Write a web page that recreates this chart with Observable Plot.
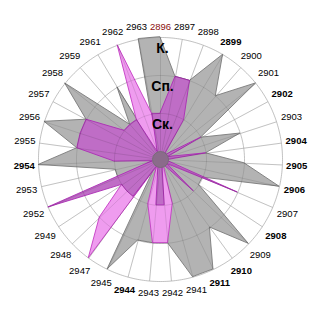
<!DOCTYPE html>
<html><head><meta charset="utf-8">
<script src="https://cdn.jsdelivr.net/npm/d3@7"></script>
<script src="https://cdn.jsdelivr.net/npm/@observablehq/plot@0.6"></script>
<style>
html,body{margin:0;padding:0;background:#fff;}
#chart{width:320px;height:320px;overflow:hidden;}
svg{font-family:"Liberation Sans",Arial,sans-serif;}
</style></head><body><div id="chart"></div>
<script>
const categories = ["2896","2897","2898","2899","2900","2901","2902","2903","2904","2905","2906","2907","2908","2909","2910","2911","2941","2942","2943","2944","2945","2947","2948","2949","2952","2953","2954","2955","2956","2957","2958","2959","2961","2962","2963"];
const grayLevels   = [3,2,2,3,2,3,1,2,1,2,3,1,1,3,2,3,3,2,2,2,3,0,1,1,1,1,3,2,3,2,3,1,2,0,3];
const pinkLevels   = [0,0,0,0,0,0,0,0,0,0,0,0,0,0,0,0,1,2,2,1,0,3,2,1,1,0,0,0,0,0,0,0,1,3,1];
const purpleLevels = [1,2,2,1,0,0,1,0,1,0,0,2,0,1,0,0,0,1,1,0,0,1,1,1,3,0,1,2,2,2,1,1,1,0,1];
const boldLabels = ["2899","2902","2904","2905","2906","2908","2910","2911","2944","2954"];
const redLabels = ["2896"];
const levelValues = [1,2,3];
const levelLabels = ["Ск.","Сп.","К."];

const n = categories.length;
const R = 122; // outer radius in px (1 degree of the projection)
const angle = c => categories.indexOf(c) * 2 * Math.PI / n;
const lon = c => 180 - categories.indexOf(c) * 360 / n;
const rad = d3.scaleLinear().domain([0, 3]).range([8 / R, 1]);
const lat = v => 90 - rad(v);
const labelLat = c => { const a = angle(c); return 90 - (126 + 10 * Math.abs(Math.sin(a)) + 7 * Math.abs(Math.cos(a))) / R; };
const series = levels => categories.map((c, i) => ({key: c, value: levels[i]}));

const areaOpts = (fill, stroke) => ({
  x1: d => lon(d.key), y1: d => lat(d.value), x2: () => 0, y2: () => 90,
  curve: "linear-closed", fill, stroke, strokeWidth: 0.9
});

const chart = Plot.plot({
  width: 320, height: 320,
  margin: 0,
  projection: {type: "azimuthal-equidistant", rotate: [0, -90], domain: d3.geoCircle().center([0, 90]).radius(1)(),
               insetLeft: 38, insetRight: 38, insetTop: 37, insetBottom: 39},
  marks: [
    Plot.geo(levelValues, {geometry: v => d3.geoCircle().center([0, 90]).radius(rad(v)).precision(1)(), fill: "none", stroke: "#d9d9d9", strokeWidth: 1}),
    Plot.link(categories, {x1: lon, y1: () => 90, x2: lon, y2: () => lat(3), stroke: "#d9d9d9", strokeWidth: 1}),
    Plot.area(series(grayLevels), areaOpts("#b3b3b3", "#7a7a7a")),
    Plot.area(series(pinkLevels), areaOpts("#ef9cef", "#c43cc4")),
    Plot.area(series(purpleLevels), areaOpts("#bf6dc6", "#ac2cb4")),
    Plot.geo(levelValues, {geometry: v => d3.geoCircle().center([0, 90]).radius(rad(v)).precision(1)(), fill: "none", stroke: "#000", strokeOpacity: 0.1}),
    Plot.link(categories, {x1: lon, y1: () => 90, x2: lon, y2: () => lat(3), stroke: "#000", strokeOpacity: 0.1}),
    Plot.dot([0], {x: () => 0, y: () => 90, r: 8, fill: "#8b6b8b", stroke: "#6e6e6e", strokeWidth: 0.8}),
    Plot.text(categories, {filter: c => !boldLabels.includes(c) && !redLabels.includes(c), x: lon, y: labelLat, text: c => c, fontSize: 9.5, fill: "#000"}),
    Plot.text(categories, {filter: c => boldLabels.includes(c), x: lon, y: labelLat, text: c => c, fontSize: 9.5, fontWeight: "bold", fill: "#000"}),
    Plot.text(categories, {filter: c => redLabels.includes(c), x: lon, y: labelLat, text: c => c, fontSize: 9.5, fill: "#8b1010"}),
    Plot.text(levelValues, {x: () => 180, y: v => lat(v - 0.28), text: (v, i) => levelLabels[i], fontSize: 14, fontWeight: "bold", fill: "#000", lineAnchor: "middle", dx: 2})
  ]
});
document.getElementById("chart").appendChild(chart);
</script>
</body></html>
